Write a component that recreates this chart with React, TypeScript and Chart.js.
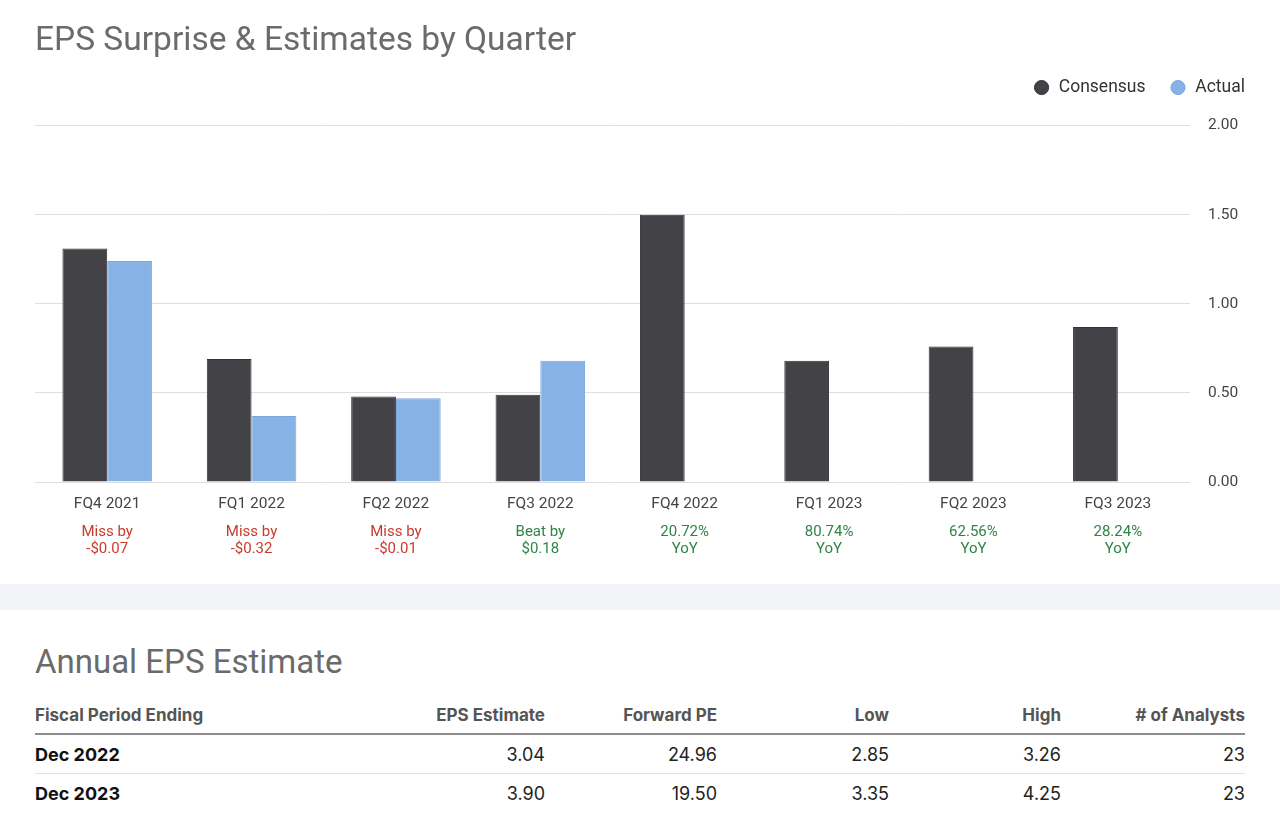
import React, { useEffect, useRef } from 'react';
import { Chart, registerables } from 'chart.js';

Chart.register(...registerables);

const FONT = 'Roboto, "Liberation Sans", Arial, sans-serif';
const TABLE_FONT = 'Inter, Roboto, "Liberation Sans", Arial, sans-serif';

const quarters = ['FQ4 2021', 'FQ1 2022', 'FQ2 2022', 'FQ3 2022', 'FQ4 2022', 'FQ1 2023', 'FQ2 2023', 'FQ3 2023'];
const consensus = [1.31, 0.69, 0.48, 0.49, 1.5, 0.68, 0.76, 0.87];
const actual: (number | null)[] = [1.24, 0.37, 0.47, 0.68, null, null, null, null];
const surpriseTop = ['Miss by', 'Miss by', 'Miss by', 'Beat by', '20.72%', '80.74%', '62.56%', '28.24%'];
const surpriseBottom = ['-$0.07', '-$0.32', '-$0.01', '$0.18', 'YoY', 'YoY', 'YoY', 'YoY'];
const surpriseKind = ['miss', 'miss', 'miss', 'beat', 'beat', 'beat', 'beat', 'beat'];
const yTicks = [0, 0.5, 1, 1.5, 2];

const tableHeaders = ['Fiscal Period Ending', 'EPS Estimate', 'Forward PE', 'Low', 'High', '# of Analysts'];
const periods = ['Dec 2022', 'Dec 2023'];
const epsEstimate = ['3.04', '3.90'];
const forwardPE = ['24.96', '19.50'];
const lowEst = ['2.85', '3.35'];
const highEst = ['3.26', '4.25'];
const analysts = ['23', '23'];

const RED = '#c93a2e';
const GREEN = '#2f8447';
const LEGEND_GAP = 19.2;

const legendGap = {
  id: 'legendGap',
  beforeLayout(chart: any) {
    const lg = chart.legend;
    if (lg && !lg._gapPatched) {
      const orig = lg.fit.bind(lg);
      lg.fit = function () {
        orig();
        this.height += LEGEND_GAP;
      };
      lg._gapPatched = true;
    }
  },
};

const colWidths = [338, 172, 172, 172, 172, 184];

export default function App() {
  const ref = useRef<HTMLCanvasElement>(null);

  useEffect(() => {
    document.body.style.margin = '0';
    Chart.defaults.font.family = FONT;
    const chart = new Chart(ref.current as HTMLCanvasElement, {
      type: 'bar',
      data: {
        labels: quarters,
        datasets: [
          {
            label: 'Consensus',
            data: consensus,
            backgroundColor: '#434247',
            borderColor: '#333237',
            borderWidth: 1,
            barPercentage: 1,
            categoryPercentage: 0.62,
          },
          {
            label: 'Actual',
            data: actual,
            backgroundColor: '#87b2e6',
            borderColor: '#7ba7dd',
            borderWidth: 1,
            barPercentage: 1,
            categoryPercentage: 0.62,
          },
        ],
      },
      options: {
        animation: false,
        responsive: true,
        maintainAspectRatio: false,
        layout: { padding: { left: 35, right: 11, top: 0, bottom: 28 } },
        plugins: {
          title: {
            display: true,
            text: 'EPS Surprise & Estimates by Quarter',
            align: 'start',
            color: '#6b6b6b',
            font: { family: FONT, size: 33.5, weight: 'normal', lineHeight: 0.8 },
            padding: { top: 28, bottom: 0 },
          },
          legend: {
            position: 'top',
            align: 'end',
            labels: {
              usePointStyle: true,
              pointStyle: 'circle',
              boxWidth: 17,
              boxHeight: 10,
              padding: 24,
              color: '#333333',
              font: { family: FONT, size: 17.5 },
            },
          },
          tooltip: { enabled: false },
        },
        scales: {
          x: {
            offset: true,
            grid: { display: false, drawTicks: false },
            border: { display: false },
            ticks: { color: '#444444', font: { family: FONT, size: 15.5 }, padding: 13, autoSkip: false, maxRotation: 0 },
            afterFit: (s: any) => {
              s.height = 29;
            },
          },
          x2: {
            type: 'category',
            position: 'bottom',
            weight: 1,
            offset: true,
            labels: surpriseTop.map((t, i) => [t, surpriseBottom[i]]),
            grid: { display: false, drawTicks: false },
            border: { display: false },
            ticks: {
              color: (ctx: any) => (surpriseKind[ctx.index] === 'miss' ? RED : GREEN),
              font: { family: FONT, size: 15, lineHeight: 1.15 },
              padding: 12.5,
              autoSkip: false,
              maxRotation: 0,
            },
            afterFit: (s: any) => {
              s.height = 45;
            },
          },
          y: {
            position: 'right',
            min: 0,
            max: 2,
            afterBuildTicks: (s: any) => {
              s.ticks = yTicks.map((v) => ({ value: v }));
            },
            ticks: {
              color: '#444444',
              font: { family: FONT, size: 15.5 },
              padding: 18,
              callback: (v: any) => Number(v).toFixed(2),
            },
            grid: { color: '#dedede', lineWidth: 1, drawTicks: false },
            border: { display: false },
            afterFit: (s: any) => {
              s.width = 79;
            },
          },
        },
      } as any,
      plugins: [legendGap],
    });
    return () => chart.destroy();
  }, []);

  const rows = periods.map((p, i) => [p, epsEstimate[i], forwardPE[i], lowEst[i], highEst[i], analysts[i]]);

  return (
    <div style={{ width: 1280, background: '#ffffff', fontFamily: FONT }}>
      <div style={{ position: 'relative', width: 1280, height: 584 }}>
        <canvas ref={ref} />
      </div>
      <div style={{ height: 26, background: '#f2f3f7' }} />
      <div style={{ padding: '0 35px', fontFamily: TABLE_FONT }}>
        <div style={{ paddingTop: 32, height: 40, lineHeight: '40px', fontSize: 33, color: '#6b6b6b', fontFamily: FONT }}>
          Annual EPS Estimate
        </div>
        <div style={{ display: 'flex', height: 51, alignItems: 'flex-end', borderBottom: '2px solid #8c8c8c' }}>
          {tableHeaders.map((h, j) => (
            <div
              key={h}
              style={{
                width: colWidths[j],
                textAlign: j === 0 ? 'left' : 'right',
                fontWeight: 700,
                fontSize: 17,
                lineHeight: '20px',
                paddingBottom: 8,
                color: '#555555',
              }}
            >
              {h}
            </div>
          ))}
        </div>
        {rows.map((r, i) => (
          <div
            key={i}
            style={{
              display: 'flex',
              height: 38,
              alignItems: 'center',
              borderBottom: i === 0 ? '1px solid #e2e2e2' : 'none',
            }}
          >
            {r.map((c, j) => (
              <div
                key={j}
                style={{
                  width: colWidths[j],
                  textAlign: j === 0 ? 'left' : 'right',
                  fontWeight: j === 0 ? 700 : 400,
                  fontSize: 18,
                  color: j === 0 ? '#111111' : '#222222',
                }}
              >
                {c}
              </div>
            ))}
          </div>
        ))}
      </div>
    </div>
  );
}
